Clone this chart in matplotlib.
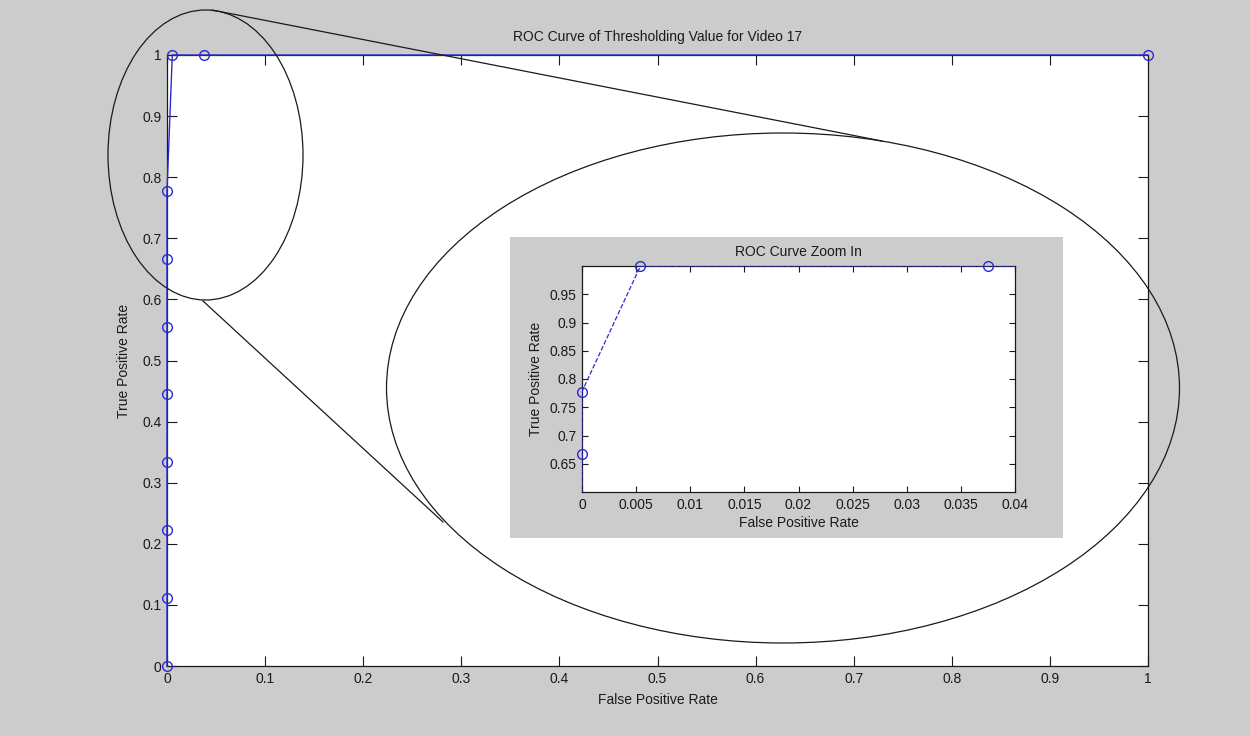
import numpy as np
import matplotlib
matplotlib.use("Agg")
import matplotlib.pyplot as plt
import matplotlib.transforms as mtransforms
from matplotlib.patches import Ellipse
from matplotlib.lines import Line2D

plt.rcParams['font.family'] = ['Liberation Sans', 'DejaVu Sans']

# ROC points (false positive rate, true positive rate)
fpr = [0, 0, 0, 0, 0, 0, 0, 0, 0.0054, 0.0375, 1.0]
tpr = [0, 0.1111, 0.2222, 0.3333, 0.4444, 0.5556, 0.6667, 0.7778, 1.0, 1.0, 1.0]

main_ticks = np.round(np.arange(0, 1.01, 0.1), 1)
zoom_xlim = (0, 0.04)
zoom_ylim = (0.6, 1.0)
zoom_xticks = [0, 0.005, 0.01, 0.015, 0.02, 0.025, 0.03, 0.035, 0.04]
zoom_yticks = [0.65, 0.7, 0.75, 0.8, 0.85, 0.9, 0.95]

W, H = 1250, 736
BG = '#cccccc'
LINE = '#2a2ad0'
INK = '#1a1a1a'


def fmt(v):
    return ('%g' % v)


def matlab_style(ax, ticklen):
    ax.tick_params(direction='in', top=True, right=True, length=ticklen,
                   width=0.8, labelsize=10, colors=INK, pad=4)
    for s in ax.spines.values():
        s.set_linewidth(0.9)
        s.set_color(INK)


fig = plt.figure(figsize=(W / 100, H / 100), dpi=100, facecolor=BG)

# pixel coordinates, origin at top left
px = mtransforms.Affine2D().scale(1 / W, -1 / H).translate(0, 1) + fig.transFigure


def box(l, t, r, b):
    return [l / W, 1 - b / H, (r - l) / W, (b - t) / H]


ax = fig.add_axes(box(167, 55, 1148, 666))
ax.set_facecolor('white')
ax.plot(fpr, tpr, '-', color=LINE, lw=1.0, marker='o', markersize=7,
        markerfacecolor='none', markeredgecolor=LINE, markeredgewidth=1.0, clip_on=False, zorder=3)
ax.set_xlim(0, 1)
ax.set_ylim(0, 1)
ax.set_xticks(main_ticks)
ax.set_yticks(main_ticks)
ax.set_xticklabels([fmt(v) for v in main_ticks])
ax.set_yticklabels([fmt(v) for v in main_ticks])
matlab_style(ax, 7)
ax.set_title('ROC Curve of Thresholding Value for Video 17', fontsize=10, color=INK, pad=10)
ax.set_xlabel('False Positive Rate', fontsize=10, color=INK, labelpad=5)
ax.set_ylabel('True Positive Rate', fontsize=10, color=INK, labelpad=8)

# magnifier decorations
fig.add_artist(Ellipse((205.5, 155), 195, 290, transform=px, fill=False,
                       edgecolor=INK, lw=0.9, zorder=5))
fig.add_artist(Ellipse((783, 388), 793, 510, transform=px, fill=False,
                       edgecolor=INK, lw=0.9, zorder=5))
fig.add_artist(Line2D([212, 882], [10, 141], transform=px, color=INK, lw=0.9, zorder=5))
fig.add_artist(Line2D([203, 443], [301, 522], transform=px, color=INK, lw=0.9, zorder=5))

# zoomed inset with its own gray panel
fig.add_artist(plt.Rectangle((510, 538), 553, -301, transform=px, facecolor=BG,
                             edgecolor='none', zorder=6))
axz = fig.add_axes(box(582, 266, 1015, 492), zorder=7)
axz.set_facecolor('white')
axz.plot(fpr, tpr, '--', color=LINE, lw=0.9, zorder=3)
fz = np.array(fpr)
tz = np.array(tpr)
inside = (fz >= zoom_xlim[0]) & (fz <= zoom_xlim[1]) & (tz >= zoom_ylim[0]) & (tz <= zoom_ylim[1])
axz.plot(fz[inside], tz[inside], 'o', markersize=7, markerfacecolor='none',
         markeredgecolor=LINE, markeredgewidth=1.0, clip_on=False, zorder=4)
axz.set_xlim(*zoom_xlim)
axz.set_ylim(*zoom_ylim)
axz.set_xticks(zoom_xticks)
axz.set_yticks(zoom_yticks)
axz.set_xticklabels([fmt(v) for v in zoom_xticks])
axz.set_yticklabels([fmt(v) for v in zoom_yticks])
matlab_style(axz, 4)
axz.set_title('ROC Curve Zoom In', fontsize=10, color=INK, pad=7)
axz.set_xlabel('False Positive Rate', fontsize=10, color=INK, labelpad=3)
axz.set_ylabel('True Positive Rate', fontsize=10, color=INK, labelpad=5)

fig.savefig('out.png', dpi=100, facecolor=BG)
